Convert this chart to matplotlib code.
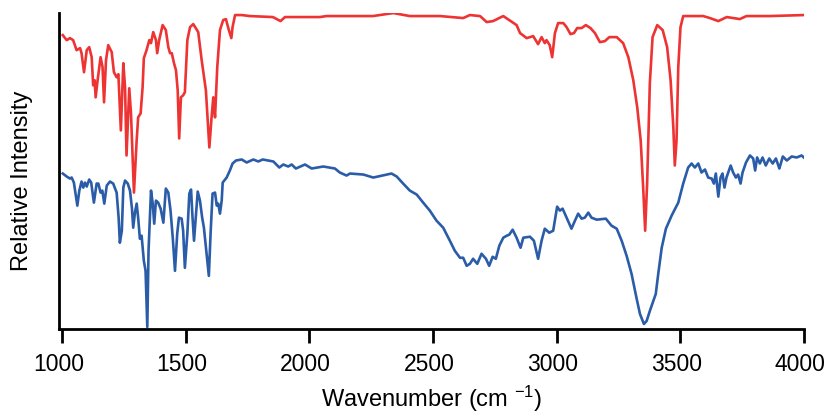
import matplotlib
matplotlib.use("Agg")
import matplotlib.pyplot as plt
import matplotlib.transforms as mtransforms

plt.rcParams["font.family"] = ["Liberation Sans", "DejaVu Sans"]
plt.rcParams["mathtext.fontset"] = "custom"
plt.rcParams["mathtext.rm"] = "Liberation Sans"
plt.rcParams["mathtext.it"] = "Liberation Sans:italic"
plt.rcParams["mathtext.bf"] = "Liberation Sans:bold"

# upper spectrum (red), wavenumber in cm-1 and relative intensity (a.u.)
red_wn = [1002, 1018, 1031, 1044, 1058, 1072, 1078, 1088, 1099, 1109,
          1119, 1125, 1131, 1135, 1143, 1155, 1163, 1169, 1177, 1186,
          1200, 1209, 1220, 1227, 1231, 1237, 1247, 1254, 1260, 1271,
          1278, 1290, 1301, 1307, 1317, 1325, 1330, 1341, 1352, 1359,
          1368, 1379, 1384, 1392, 1406, 1419, 1429, 1436, 1443, 1452,
          1460, 1467, 1473, 1480, 1489, 1496, 1506, 1517, 1530, 1550,
          1564, 1581, 1595, 1604, 1611, 1618, 1627, 1638, 1651, 1662,
          1674, 1684, 1689, 1699, 1726,
          1759, 1852, 1883, 1901, 2042, 2069, 2257,
          2339, 2406, 2528, 2622, 2649, 2690, 2717, 2743, 2784, 2838, 2852, 2879,
          2892, 2905, 2925, 2939, 2952, 2959, 2972, 2982, 2993, 3006, 3027, 3040,
          3056, 3070, 3083, 3101, 3118, 3137, 3155, 3175, 3195, 3213, 3243, 3269,
          3290, 3310, 3326, 3340, 3350, 3358, 3366, 3377, 3388, 3407, 3429, 3447,
          3461, 3472, 3478, 3485, 3492, 3501, 3512, 3593, 3620, 3654, 3688, 3741,
          3768, 3863, 4000]
red_int = [293, 288, 290, 288, 278, 280, 275, 256, 278, 281,
           271, 243, 248, 231, 248, 271, 261, 226, 268, 283,
           276, 256, 251, 254, 231, 198, 265, 241, 173, 240,
           215, 136, 188, 211, 215, 241, 270, 278, 288, 285,
           296, 288, 275, 288, 303, 298, 281, 275, 275, 265,
           258, 238, 190, 231, 233, 236, 288, 301, 304, 296,
           268, 238, 181, 211, 231, 211, 261, 298, 308, 309,
           298, 290, 301, 313, 313,
           312, 311, 307, 311, 311, 312, 312,
           315, 312, 312, 310, 313, 312, 306, 307, 312, 303, 295, 290,
           291, 292, 284, 291, 285, 288, 283, 271, 295, 305, 305, 301,
           294, 295, 300, 300, 303, 300, 295, 286, 287, 291, 291, 285,
           271, 248, 221, 188, 141, 98, 145, 245, 291, 303, 298, 281,
           248, 201, 163, 188, 261, 301, 312, 312, 310, 307, 311, 309,
           312, 312, 313]

# lower spectrum (blue)
blue_wn = [1002, 1018, 1031, 1038, 1047, 1061, 1069, 1078, 1085, 1092, 1099, 1109,
           1117, 1128, 1139, 1146, 1155, 1162, 1170, 1180, 1193, 1206, 1220, 1228,
           1233, 1241, 1247, 1254, 1265, 1274, 1282, 1287, 1294, 1301, 1307, 1314,
           1321, 1330, 1337, 1344, 1349, 1359, 1366, 1372, 1379, 1388, 1398, 1409,
           1419, 1429, 1438, 1447, 1456, 1465, 1472, 1483, 1489, 1496, 1506, 1514,
           1521, 1527, 1533, 1540, 1548, 1557, 1566, 1573, 1584, 1593, 1600, 1608,
           1618, 1625, 1631, 1638, 1645, 1649, 1665, 1678, 1689, 1703, 1726, 1746,
           1773, 1793, 1811, 1854, 1878, 1894, 1914, 1928, 1945, 1982, 2009, 2056,
           2103, 2123, 2150, 2164, 2218, 2258, 2312, 2332, 2353, 2379, 2406, 2434,
           2460, 2487, 2514, 2541, 2568, 2588, 2609, 2622, 2636, 2649, 2662, 2679,
           2696, 2714, 2727, 2741, 2754, 2768, 2784, 2798, 2808, 2822, 2838, 2854,
           2865, 2892, 2908, 2925, 2939, 2952, 2970, 2986, 3002, 3013, 3024, 3040,
           3060, 3074, 3087, 3101, 3114, 3128, 3141, 3162, 3199, 3222, 3243, 3263,
           3283, 3303, 3323, 3337, 3353, 3364, 3377, 3391, 3401, 3411, 3425, 3442,
           3465, 3492, 3512, 3532, 3546, 3559, 3573, 3586, 3600, 3613, 3627, 3636,
           3644, 3654, 3663, 3671, 3679, 3687, 3704, 3714, 3725, 3734, 3744, 3752,
           3766, 3782, 3795, 3803, 3811, 3822, 3833, 3846, 3860, 3874, 3887, 3901,
           3915, 3931, 3951, 3971, 3991, 4000]
blue_int = [155, 152, 150, 151, 146, 123, 138, 147, 141, 146, 142, 149,
            146, 126, 145, 145, 136, 138, 125, 143, 147, 145, 136, 111,
            86, 98, 141, 148, 145, 138, 120, 101, 116, 125, 111, 90,
            93, 68, 58, 2, 78, 138, 125, 105, 128, 126, 120, 106,
            140, 136, 118, 91, 58, 95, 111, 110, 98, 61, 95, 135,
            139, 111, 88, 111, 137, 128, 111, 101, 75, 53, 95, 135,
            136, 123, 125, 115, 128, 146, 151, 158, 165, 168, 169, 166,
            169, 167, 169, 167, 161, 164, 162, 164, 160, 164, 160, 162,
            160, 156, 153, 155, 154, 151, 154, 155, 152, 145, 138, 134,
            126, 118, 108, 101, 88, 78, 71, 71, 63, 65, 70, 65,
            75, 70, 63, 72, 70, 83, 91, 93, 94, 99, 91, 81,
            91, 92, 88, 70, 88, 100, 96, 98, 122, 118, 120, 111,
            100, 108, 115, 110, 111, 116, 111, 109, 110, 103, 100, 88,
            73, 55, 31, 15, 5, 8, 18, 28, 35, 55, 81, 100,
            113, 126, 145, 161, 165, 161, 165, 156, 159, 151, 150, 145,
            155, 132, 151, 155, 141, 151, 163, 156, 151, 154, 145, 156,
            166, 173, 170, 158, 171, 165, 171, 163, 170, 165, 170, 160,
            172, 168, 172, 171, 173, 171]

x_ticks = [1000, 1500, 2000, 2500, 3000, 3500, 4000]

fig = plt.figure(figsize=(8.27, 4.13), dpi=100)
ax = fig.add_axes([0.0717, 0.2034, 0.9003, 0.765])

ax.plot(red_wn, red_int, color="#ee3333", lw=1.9, solid_joinstyle="round")
ax.plot(blue_wn, blue_int, color="#2a5ca8", lw=1.9, solid_joinstyle="round")

ax.set_xlim(988, 4000)
ax.set_ylim(0, 315)
ax.set_xticks(x_ticks)
ax.set_yticks([])
ax.tick_params(axis="x", direction="out", length=10, width=2, labelsize=16.5, pad=7)
for side in ["top", "right"]:
    ax.spines[side].set_visible(False)
for side in ["left", "bottom"]:
    ax.spines[side].set_linewidth(2)

# tick labels sit a little left of their ticks in the original
shift = mtransforms.ScaledTranslation(-4 / 100, 0, fig.dpi_scale_trans)
for lab in ax.get_xticklabels():
    lab.set_transform(lab.get_transform() + shift)

ax.set_xlabel("Wavenumber (cm $^{-1}$)", fontsize=17, labelpad=6)
ax.set_ylabel("Relative Intensity", fontsize=17)
ax.yaxis.set_label_coords(-0.035, 0.47)

fig.savefig("out.png", dpi=100)
